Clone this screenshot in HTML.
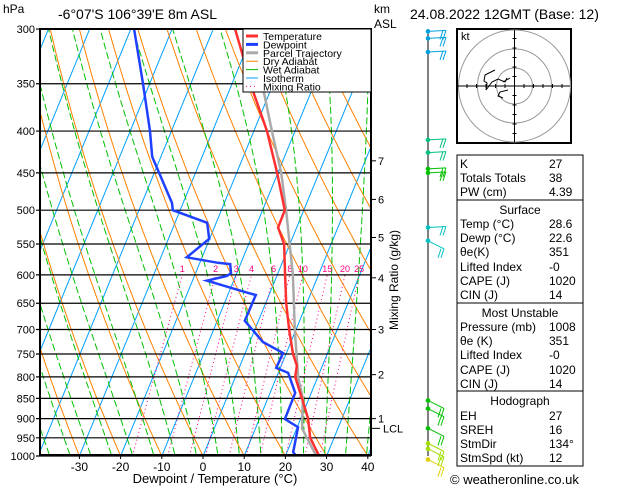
<!DOCTYPE html>
<html><head><meta charset="utf-8"><style>
html,body{margin:0;padding:0;background:#fff;}
svg{display:block;font-family:"Liberation Sans",sans-serif;}
</style></head><body>
<svg id="c" width="629" height="486" viewBox="0 0 629 486" xmlns="http://www.w3.org/2000/svg">
<defs><clipPath id="pc"><rect x="40" y="29" width="331" height="426"/></clipPath></defs>
<g id="bg" clip-path="url(#pc)"></g>
<g id="isobars"></g>
<g id="series" clip-path="url(#pc)"></g>
<rect x="40" y="29" width="331" height="426" fill="none" stroke="#000" stroke-width="2"/>
<text x="3" y="13" font-size="12">hPa</text>
<text x="58" y="19" font-size="14">-6°07'S  106°39'E  8m  ASL</text>
<text x="374" y="13" font-size="12">km</text>
<text x="374" y="28" font-size="12">ASL</text>
<text x="410" y="19" font-size="14">24.08.2022  12GMT  (Base: 12)</text>
<text x="215" y="483" font-size="13" text-anchor="middle">Dewpoint  /  Temperature  (°C)</text>
<text transform="translate(398,280) rotate(-90)" font-size="12" text-anchor="middle">Mixing  Ratio  (g/kg)</text>
<g id="axes"></g>
<g id="legend">
<rect x="243" y="29" width="128" height="63" fill="#fff" stroke="#000" stroke-width="1"/>
</g>
<line x1="428" y1="29" x2="428" y2="456" stroke="#000" stroke-width="1"/>
<g id="barbs"></g>
<g id="hodo">
<rect x="457" y="29" width="114" height="114" fill="#fff" stroke="#000" stroke-width="2"/>
<text x="461" y="40" font-size="11">kt</text>
</g>
<g id="table" font-size="12"></g>
<text x="450" y="484" font-size="13">© weatheronline.co.uk</text>
</svg>
<script>
// ---- data ----
const tempP = [300,360,400,450,500,525,550,600,650,700,750,775,800,850,900,950,1000];
const tempT = [-34.7,-23.7,-16.8,-10.2,-4.6,-4.5,-1.4,1.9,5.0,8.3,11.7,13.8,14.5,18.3,21.8,24.2,28.2];
const dewP = [300,350,400,430,490,500,518,542,571,580,582,597,602,610,631,635,683,725,748,780,791,837,901,922,989,1000];
const dewT = [-59.2,-51.6,-45.2,-42.1,-32.7,-31.8,-22.2,-20.1,-23.7,-15.6,-12.5,-11.4,-12.1,-16.5,-5.5,-3.2,-3.3,3.2,9.2,9.0,12.4,16.1,16.2,20.2,21.5,22.6];
const parcelP = [300,350,400,450,500,600,700,800,850,925,1000];
const parcelT = [-31.1,-22.7,-15.6,-9.2,-4.3,3.8,9.7,15.2,18.5,21.3,27.5];
const pressureTicks = [300,350,400,450,500,550,600,650,700,750,800,850,900,950,1000];
const tempTicks = [-30,-20,-10,0,10,20,30,40];
const mixRatios = [1,2,3,4,6,8,10,15,20,25];
const kmTicks = [7,6,5,4,3,2,1];
const kmTickP = [435,485,540,605,700,795,900];
// ---- axis functions ----
const NS='http://www.w3.org/2000/svg';
function yP(p){return 456-354.6*Math.log(1000/p);}
function xT(t,p){return 203+4.12*t+0.41*(456-yP(p));}
function mk(tag,attrs,parent){const e=document.createElementNS(NS,tag);for(const k in attrs)e.setAttribute(k,attrs[k]);parent.appendChild(e);return e;}
function pathFrom(ps,ts){return ps.map((p,i)=>(i?'L':'M')+xT(ts[i],p).toFixed(1)+','+yP(p).toFixed(1)).join('');}
const bg=document.getElementById('bg');
const plist=[];for(let p=1050;p>=280;p-=10)plist.push(p);
// isotherms
for(let t=-130;t<=50;t+=10){
  const e=mk('line',{x1:xT(t,1050),y1:yP(1050),x2:xT(t,280),y2:yP(280),stroke:'#00a0ff','stroke-width':1},bg);
  
  
}
// dry adiabats
for(let th=-40;th<=180;th+=10){
  const ts=plist.map(p=>(th+273.15)*Math.pow(p/1000,0.286)-273.15);
  const e=mk('path',{d:pathFrom(plist,ts),stroke:'#ff8000','stroke-width':1,fill:'none'},bg);
  
  
}
// wet adiabats
function es(t){return 6.112*Math.exp(17.67*t/(t+243.5));}
for(let t0=-39;t0<=41;t0+=5){
  const ps=[],ts=[];let T=t0+273.15;
  for(let p=1050;p>=280;p-=2){
    ps.push(p);ts.push(T-273.15);
    const rs=0.622*es(T-273.15)/(p-es(T-273.15));
    const dTdp=(287*T+2.5e6*rs)/(1004+2.5e6*2.5e6*rs*0.622/(287*T*T))/p;
    T-=dTdp*2;
  }
  const e=mk('path',{d:pathFrom(ps,ts),stroke:'#00c000','stroke-width':1,fill:'none','stroke-dasharray':'7,3'},bg);
  
  
}
// mixing ratio
mixRatios.forEach(w=>{
  const ps=[],ts=[];
  for(let p=1000;p>=600;p-=10){const e=w*p/(622+w);const l=Math.log(e/6.112);ps.push(p);ts.push(243.5*l/(17.67-l));}
  const e=mk('path',{d:pathFrom(ps,ts),stroke:'#ff0080','stroke-width':1,fill:'none','stroke-dasharray':'1,3'},bg);
  
  
  const lb=mk('text',{x:xT(ts[ts.length-1],600),y:272,'font-size':9,fill:'#ff0080','text-anchor':'middle'},bg);
  lb.textContent=w;
  
  
});
// isobars & ticks
const iso=document.getElementById('isobars');
pressureTicks.forEach(p=>{
  const y=yP(p);
  const l=mk('line',{x1:36,y1:y,x2:371,y2:y,stroke:'#000','stroke-width':1.2},iso);
  
  
  const t=mk('text',{x:35,y:y+4,'font-size':11,'text-anchor':'end'},iso);
  t.textContent=p;
  
  
});
const ax=document.getElementById('axes');
tempTicks.forEach(t=>{
  const x=xT(t,1000);
  const l=mk('line',{x1:x,y1:455,x2:x,y2:459,stroke:'#000'},ax);
  
  
  const tx=mk('text',{x:x,y:471,'font-size':12,'text-anchor':'middle'},ax);
  tx.textContent=t;
  
  
});
kmTicks.forEach((k,i)=>{
  const y=yP(kmTickP[i]);
  const l=mk('line',{x1:371,y1:y,x2:376,y2:y,stroke:'#000'},ax);
  
  
  const tx=mk('text',{x:378,y:y+4,'font-size':11},ax);
  tx.textContent=k;
  
  
});
{const y=yP(925);const l=mk('line',{x1:371,y1:y,x2:380,y2:y,stroke:'#000'},ax);


const tx=mk('text',{x:383,y:y+4,'font-size':11},ax);tx.textContent='LCL';

}
// series
const sg=document.getElementById('series');
const pc=mk('path',{d:pathFrom(parcelP,parcelT),stroke:'#aaaaaa','stroke-width':2.5,fill:'none'},sg);


const tl=mk('path',{d:pathFrom(tempP,tempT),stroke:'#ff3030','stroke-width':2.5,fill:'none'},sg);


const dl=mk('path',{d:pathFrom(dewP,dewT),stroke:'#2040ff','stroke-width':2.5,fill:'none'},sg);


// legend
const lg=document.getElementById('legend');
const legItems=[['Temperature','#ff3030',3,''],['Dewpoint','#2040ff',3,''],['Parcel Trajectory','#aaaaaa',3,''],['Dry Adiabat','#ff8000',1,''],['Wet Adiabat','#00c000',1,''],['Isotherm','#00a0ff',1,''],['Mixing Ratio','#ff0080',1,'1,3']];
legItems.forEach((it,i)=>{
  const y=36+i*8.4;
  const l=mk('line',{x1:246,y1:y,x2:258,y2:y,stroke:it[1],'stroke-width':it[2],'stroke-dasharray':it[3]},lg);
  
  
  const t=mk('text',{x:263,y:y+4,'font-size':10.5},lg);t.textContent=it[0];
  
  
});
// barbs
const barbP=[302,308,320,410,425,445,450,525,545,855,875,925,965,980,1010];
const barbC=['#00a0e0','#00a0e0','#00a0e0','#00c080','#00c080','#00c000','#00c000','#00c0c0','#00c0c0','#00c000','#00c000','#00c000','#a0e000','#a0e000','#e0d000'];
const bgp=document.getElementById('barbs');
barbP.forEach((p,i)=>{
  const y=yP(p);const c=barbC[i];
  const g=mk('g',{stroke:c,fill:c},bgp);
  
  
  const up=i<8;
  const x2=up?446:444,y2=up?y-1:y+8;
  mk('circle',{cx:428,cy:y,r:1.8},g);
  mk('line',{x1:428,y1:y,x2:x2,y2:y2,'stroke-width':1},g);
  mk('line',{x1:x2,y1:y2,x2:x2-3,y2:y2+9,'stroke-width':1},g);
  mk('line',{x1:x2-3,y1:y2,x2:x2-6,y2:y2+9,'stroke-width':1},g);
});
// hodograph
const hd=document.getElementById('hodo');
[18,37,56].forEach(r=>{const c=mk('circle',{cx:514.5,cy:86,r:r,fill:'none',stroke:'#999'},hd);

});
mk('line',{x1:458,y1:86,x2:570,y2:86,stroke:'#000'},hd);
mk('line',{x1:514.5,y1:30,x2:514.5,y2:142,stroke:'#000'},hd);
for(let i=-5;i<=5;i++){if(!i)continue;const d=i*9.5;
mk('line',{x1:514.5+d,y1:84,x2:514.5+d,y2:88,stroke:'#000'},hd);
mk('line',{x1:512.5,y1:86+d,x2:516.5,y2:86+d,stroke:'#000'},hd);}
const hp=mk('path',{d:'M495,70 L485,75 L484,81 L487,83 L486,90 L492,82 L498,79 L505,82 L507,78 M510,78 L503,82 M508,90 L500,92 L498,96 L503,98',fill:'none',stroke:'#000'},hd);


// table
const tb=document.getElementById('table');
const boxes=[[155,200],[200,303],[303,391],[391,466]];
boxes.forEach(b=>{const r=mk('rect',{x:457,y:b[0],width:126,height:b[1]-b[0],fill:'none',stroke:'#000'},tb);

});
const rows=[[168,'K','27'],[182,'Totals Totals','38'],[196,'PW (cm)','4.39'],[214,'Surface',null],[228,'Temp (°C)','28.6'],[242,'Dewp (°C)','22.6'],[256,'θe(K)','351'],[271,'Lifted Index','-0'],[285,'CAPE (J)','1020'],[299,'CIN (J)','14'],[317,'Most Unstable',null],[331,'Pressure (mb)','1008'],[345,'θe (K)','351'],[359,'Lifted Index','-0'],[374,'CAPE (J)','1020'],[388,'CIN (J)','14'],[405,'Hodograph',null],[420,'EH','27'],[434,'SREH','16'],[448,'StmDir','134°'],[462,'StmSpd (kt)','12']];
rows.forEach(r=>{
  if(r[2]===null){const t=mk('text',{x:520,y:r[0],'text-anchor':'middle'},tb);t.textContent=r[1];
  
  }
  else{const a=mk('text',{x:460,y:r[0]},tb);a.textContent=r[1];
  
  
  const b=mk('text',{x:549,y:r[0]},tb);b.textContent=r[2];
  
  }
});
</script>
</body></html>
